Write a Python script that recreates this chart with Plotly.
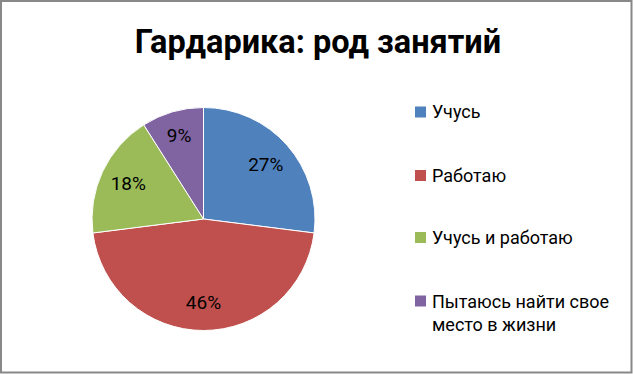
import plotly.graph_objects as go

labels = ["Учусь", "Работаю", "Учусь и работаю", "Пытаюсь найти свое место в жизни"]
legend_labels = ["Учусь", "Работаю", "Учусь и работаю", "Пытаюсь найти свое<br>место в жизни"]
values = [27, 46, 18, 9]
colors = ["#4F81BD", "#C0504D", "#9BBB59", "#8064A2"]
title_text = "Гардарика: род занятий"

W, H = 633, 374
FONT = "Roboto, 'Noto Sans', sans-serif"
pie_domain = dict(x=[92 / W, 315 / W], y=[1 - 330.5 / H, 1 - 107.5 / H])

fig = go.Figure()
# coloured slices
fig.add_trace(go.Pie(
    labels=labels,
    values=values,
    sort=False,
    direction="clockwise",
    rotation=0,
    marker=dict(colors=colors, line=dict(color="white", width=1)),
    textinfo="none",
    domain=pie_domain,
    showlegend=False,
    hoverinfo="label+percent",
))
# transparent ring carrying the percentage labels (places them at ~3/4 radius like Excel)
fig.add_trace(go.Pie(
    labels=labels,
    values=values,
    sort=False,
    direction="clockwise",
    rotation=0,
    hole=0.49,
    marker=dict(colors=["rgba(0,0,0,0)"] * len(values), line=dict(width=0)),
    texttemplate="%{percent:.0%}",
    textposition="inside",
    insidetextorientation="horizontal",
    textfont=dict(family=FONT, size=19, color="#000000"),
    domain=pie_domain,
    showlegend=False,
    hoverinfo="skip",
))

# legend (Excel style, widely spaced)
row_y = [112, 175.5, 237.5, 301]
shapes = [dict(type="rect", xref="paper", yref="paper",
               x0=1 / W, x1=1 - 1.5 / W, y0=1.5 / H, y1=1 - 1 / H,
               line=dict(color="#888888", width=2), fillcolor="rgba(0,0,0,0)")]
annotations = []
for lab, col, yc in zip(legend_labels, colors, row_y):
    shapes.append(dict(type="rect", xref="paper", yref="paper",
                       x0=415 / W, x1=426 / W, y0=1 - (yc + 5.5) / H, y1=1 - (yc - 5.5) / H,
                       fillcolor=col, line=dict(width=0)))
    nlines = lab.count("<br>") + 1
    annotations.append(dict(xref="paper", yref="paper", x=430 / W,
                            y=1 - (yc - 12) / H if nlines > 1 else 1 - yc / H,
                            xanchor="left", yanchor="top" if nlines > 1 else "middle",
                            text=lab, showarrow=False, align="left",
                            font=dict(family=FONT, size=18, color="#000000")))

fig.update_layout(
    width=W, height=H,
    margin=dict(l=0, r=0, t=0, b=0),
    paper_bgcolor="white",
    plot_bgcolor="white",
    title=dict(text="<b>" + title_text + "</b>", x=318 / W, xanchor="center",
               y=1 - 42 / H, yanchor="middle",
               font=dict(family=FONT, size=32.5, color="#000000")),
    shapes=shapes,
    annotations=annotations,
)

fig.write_html("out.html", config={"displayModeBar": False},
               post_script="document.body.style.margin='0';")
